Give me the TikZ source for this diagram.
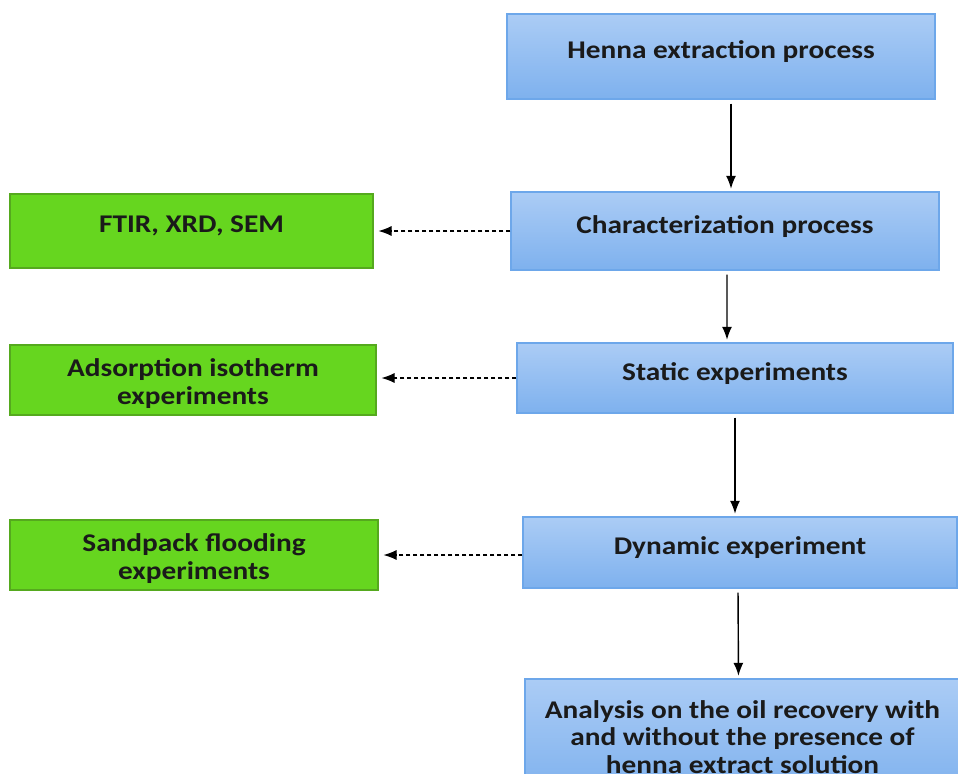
\documentclass[tikz,border=0pt]{standalone}
\usepackage{fontspec}
\setmainfont{Carlito}[FakeStretch=1.15]
\usetikzlibrary{arrows.meta}

\definecolor{boxtop}{HTML}{ABCCF5}
\definecolor{boxbottom}{HTML}{7EB1EE}
\definecolor{boxline}{HTML}{6DA7EA}
\definecolor{leaffill}{HTML}{66D61F}
\definecolor{leafline}{HTML}{55A91E}
\definecolor{inktext}{HTML}{1A1A1A}

\begin{document}
\begin{tikzpicture}[
    stage/.style={draw=boxline, line width=0.8pt, top color=boxtop, bottom color=boxbottom,
        text=inktext, font=\bfseries\fontsize{14.5}{15.6}\selectfont, align=center, inner sep=0pt},
    lifted/.style={text depth=0.27cm},
    result/.style={draw=leafline, line width=0.6pt, fill=leaffill,
        text=inktext, font=\bfseries\fontsize{14.5}{15.8}\selectfont, align=center, inner sep=0pt},
    flow/.style={-{Latex[length=0.26cm, width=0.2cm]}, line width=0.8pt,
        shorten <=0.08cm, shorten >=0.05cm},
    side/.style={-{Latex[length=0.26cm, width=0.2cm]}, line width=0.6pt,
        dash pattern=on 0.08cm off 0.06cm, shorten >=0.1cm}
]
    \useasboundingbox (0,0) rectangle (19.16,-15.46);
    \clip (0,0) rectangle (19.16,-15.46);

    % Main process boxes
    \node[stage, lifted, minimum width=8.56cm, minimum height=1.7cm] (henna) at (14.42,-1.13)
        {Henna extraction process};
    \node[stage, lifted, minimum width=8.56cm, minimum height=1.56cm] (charac) at (14.5,-4.62)
        {Characterization process};
    \node[stage, lifted, minimum width=8.72cm, minimum height=1.4cm] (static) at (14.7,-7.56)
        {Static experiments};
    \node[stage, lifted, minimum width=8.68cm, minimum height=1.42cm] (dynamic) at (14.8,-11.05)
        {Dynamic experiment};
    \node[stage, minimum width=8.7cm, minimum height=2.32cm] (analysis) at (14.85,-14.74)
        {Analysis on the oil recovery with\\and without the presence of\\henna extract solution};

    % Side results
    \node[result, lifted, minimum width=7.26cm, minimum height=1.48cm] (ftir) at (3.83,-4.62)
        {FTIR, XRD, SEM};
    \node[result, text height=1.06cm, minimum width=7.32cm, minimum height=1.4cm] (adsorp) at (3.86,-7.6)
        {Adsorption isotherm\\experiments};
    \node[result, text height=1.06cm, minimum width=7.36cm, minimum height=1.4cm] (sandpack) at (3.88,-11.1)
        {Sandpack flooding\\experiments};

    % Solid arrows down the chain
    \draw[flow] ([xshift=0.2cm]henna.south) -- ([xshift=0.12cm]charac.north);
    \draw[flow] ([xshift=0.04cm]charac.south) -- ([xshift=-0.16cm]static.north);
    \draw[flow] (static.south) -- ([xshift=-0.1cm]dynamic.north);
    \draw[flow] ([xshift=-0.04cm]dynamic.south) -- ([xshift=-0.08cm]analysis.north);

    % Dashed arrows to the results
    \draw[side] (charac.west) -- (ftir.east);
    \draw[side] (static.west) -- (static.west -| adsorp.east);
    \draw[side] (sandpack.east -| dynamic.west) -- (sandpack.east);
\end{tikzpicture}
\end{document}
